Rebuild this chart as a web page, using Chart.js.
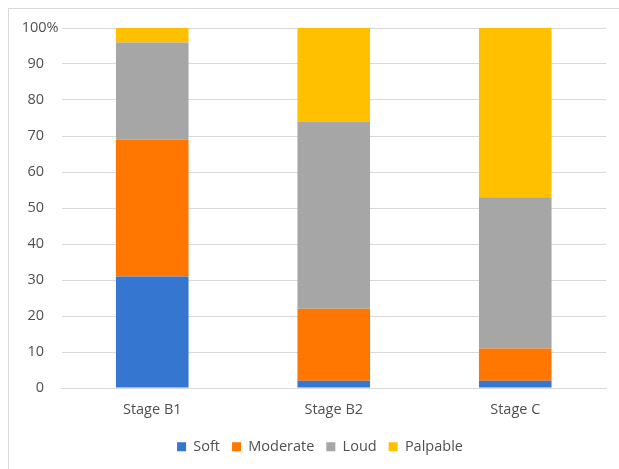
<!DOCTYPE html>
<html>
<head>
<meta charset="utf-8">
<script src="https://cdn.jsdelivr.net/npm/chart.js@4/dist/chart.umd.min.js"></script>
<style>
  html, body { margin: 0; padding: 0; background: #ffffff; }
  #wrap { position: relative; width: 619px; height: 469px; overflow: hidden; }
  #frame { position: absolute; left: 8px; top: 8px; width: 700px; height: 600px;
           border-left: 1px solid #d9d9d9; border-top: 1px solid #d9d9d9; box-sizing: border-box; }
  canvas { position: absolute; left: 0; top: 0; }
</style>
</head>
<body>
<div id="wrap">
  <div id="frame"></div>
  <canvas id="c" width="619" height="469"></canvas>
</div>
<script>
const categories = ['Stage B1', 'Stage B2', 'Stage C'];
const soft      = [31, 2, 2];
const moderate  = [38, 20, 9];
const loud      = [27, 52, 42];
const palpable  = [4, 26, 47];
const yTickLabels = ['0', '10', '20', '30', '40', '50', '60', '70', '80', '90', '100%'];

const textColor = '#505050';
const fontFamily = '"Open Sans", "Liberation Sans", sans-serif';
const fontSize = 14.5;

new Chart(document.getElementById('c'), {
  type: 'bar',
  data: {
    labels: categories,
    datasets: [
      { label: 'Soft', data: soft, backgroundColor: '#3576d1' },
      { label: 'Moderate', data: moderate, backgroundColor: '#ff7700' },
      { label: 'Loud', data: loud, backgroundColor: '#a6a6a6' },
      { label: 'Palpable', data: palpable, backgroundColor: '#ffc000' }
    ]
  },
  options: {
    responsive: false,
    animation: false,
    devicePixelRatio: 1,
    categoryPercentage: 1,
    barPercentage: 0.4,
    layout: { padding: { left: 34, right: 13, top: 28, bottom: 5 } },
    plugins: {
      tooltip: { enabled: false },
      legend: {
        position: 'bottom',
        labels: {
          boxWidth: 9, boxHeight: 9, padding: 12,
          color: textColor,
          font: { family: fontFamily, size: fontSize }
        }
      }
    },
    scales: {
      x: {
        stacked: true,
        grid: { display: false },
        border: { display: true, color: '#d9d9d9', width: 1 },
        ticks: { color: textColor, padding: 5, font: { family: fontFamily, size: fontSize } },
        afterFit: s => { s.height = 39.5; }
      },
      y: {
        stacked: true,
        min: 0, max: 100,
        grid: { color: '#d9d9d9', lineWidth: 1, drawTicks: false },
        border: { display: false },
        ticks: {
          stepSize: 10,
          color: textColor,
          padding: 3,
          font: { family: fontFamily, size: fontSize },
          callback: (v, i) => {
            const t = yTickLabels[i];
            return t.endsWith('%') ? t : t + '\u2002\u2002';
          }
        },
        afterFit: s => { s.width = 27.5; s._computeLabelArea = () => undefined; }
      }
    }
  }
});
</script>
</body>
</html>
